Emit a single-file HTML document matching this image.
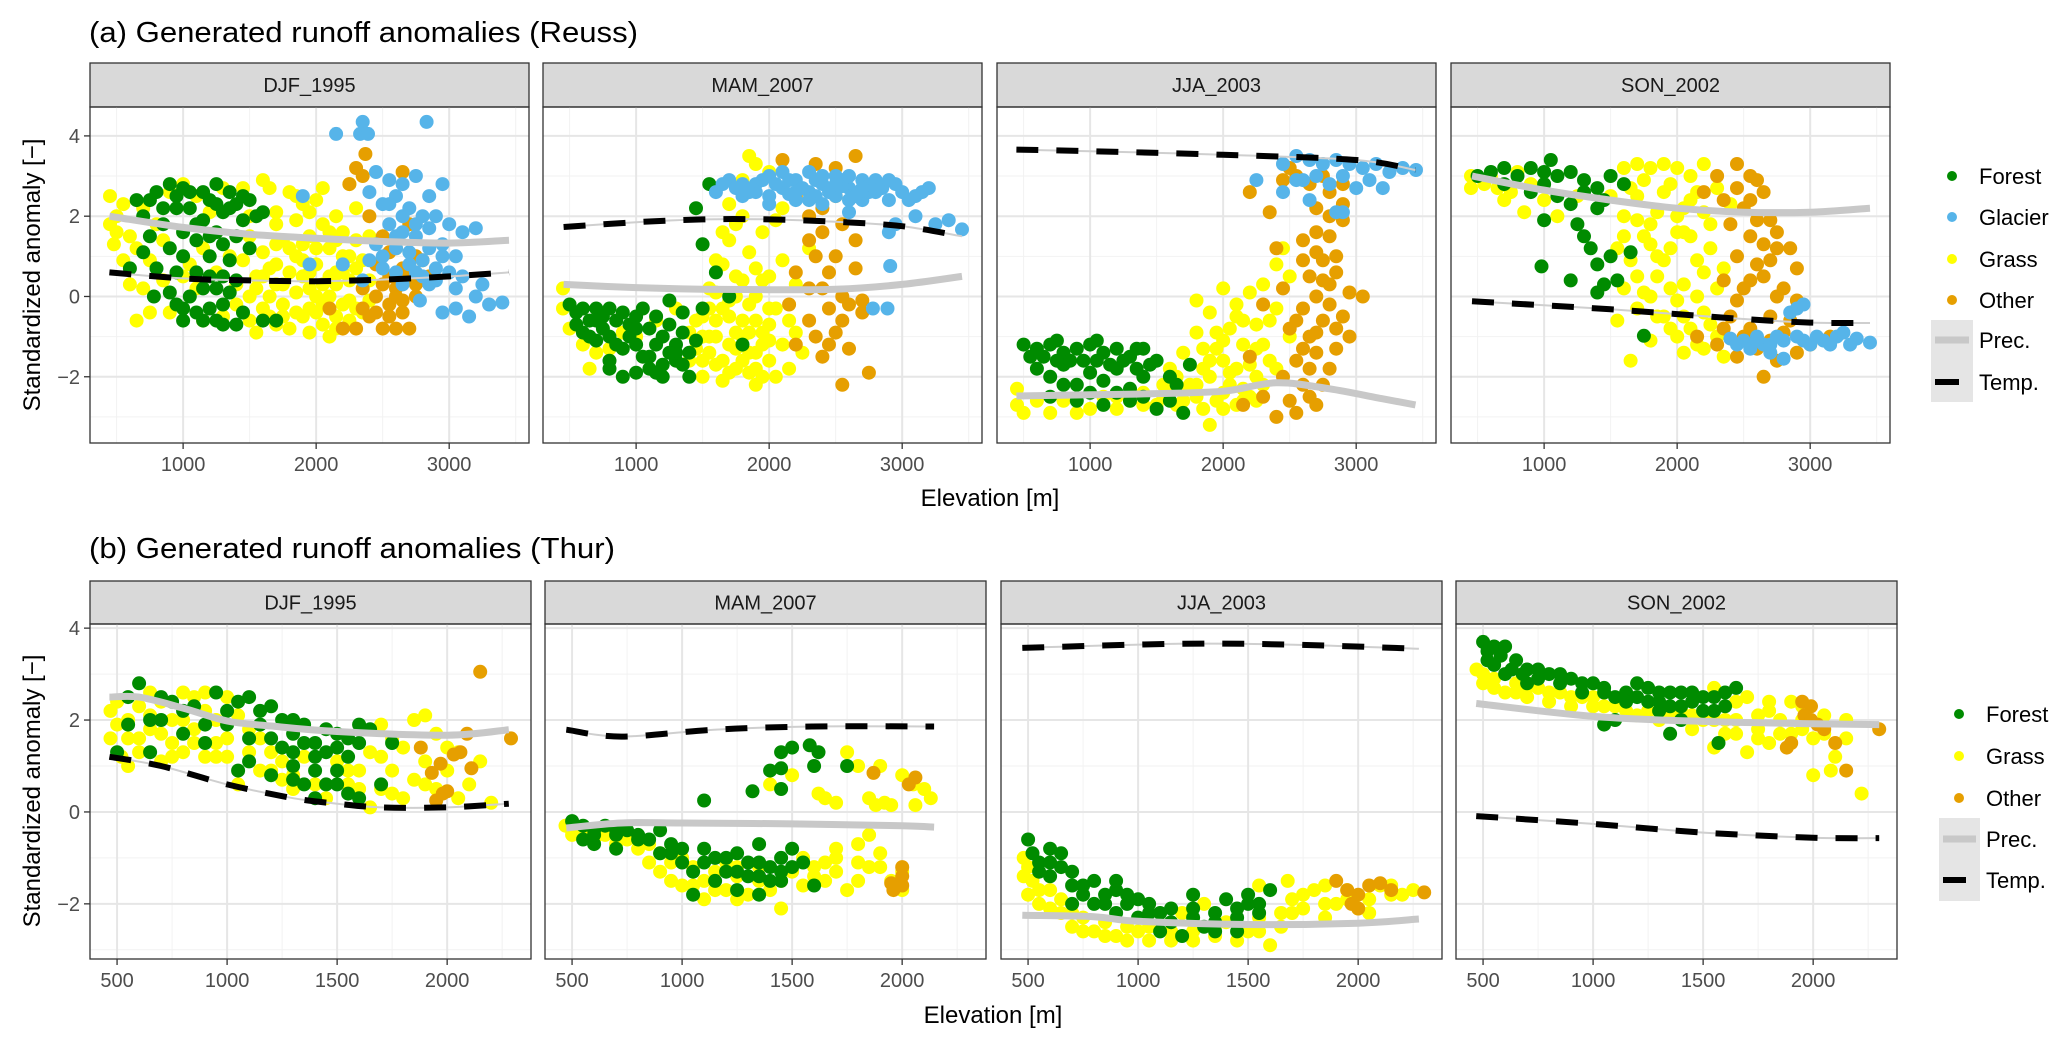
<!DOCTYPE html>
<html><head><meta charset="utf-8"><title>Generated runoff anomalies</title>
<style>
html,body{margin:0;padding:0;background:#fff;}
svg{display:block;font-family:"Liberation Sans",Arial,sans-serif;}
</style></head>
<body>
<svg id="chart" width="2067" height="1048" viewBox="0 0 2067 1048" xmlns="http://www.w3.org/2000/svg">
<rect x="0" y="0" width="2067" height="1048" fill="#fff"/>
<text x="89" y="42" font-size="29" fill="#000" textLength="549" lengthAdjust="spacingAndGlyphs">(a) Generated runoff anomalies (Reuss)</text>
<text x="89" y="558" font-size="29" fill="#000" textLength="526" lengthAdjust="spacingAndGlyphs">(b) Generated runoff anomalies (Thur)</text>
<text transform="translate(40,275) rotate(-90)" text-anchor="middle" font-size="24" fill="#000">Standardized anomaly [−]</text>
<text transform="translate(40,791) rotate(-90)" text-anchor="middle" font-size="24" fill="#000">Standardized anomaly [−]</text>
<text x="990" y="506" text-anchor="middle" font-size="24" fill="#000">Elevation [m]</text>
<text x="993" y="1023" text-anchor="middle" font-size="24" fill="#000">Elevation [m]</text>
<g id="panels"></g>
<g id="legends"></g>
</svg>
<script>
// ---------- data: seasons ----------
const seasons = ["DJF_1995","MAM_2007","JJA_2003","SON_2002"];
const reussXTicks = [1000,2000,3000];
const thurXTicks = [500,1000,1500,2000];
const yTicks = [4,2,0,-2];

// ---------- Reuss DJF ----------
const rDJF_forest = [[650,2.4],[700,2.0],[750,1.5],[800,2.6],[850,2.2],[900,2.8],[950,2.5],[1000,2.7],[1050,2.2],[1100,1.8],[1150,2.6],[1200,2.4],[1250,2.8],[1300,2.1],[1350,2.6],[1400,2.3],[1450,1.9],[1500,2.4],[1550,2.0],[1600,2.1],[700,1.1],[800,0.7],[900,1.2],[950,0.6],[1000,1.0],[1100,1.4],[1200,1.0],[1250,1.6],[1300,1.3],[1350,0.9],[1400,1.5],[1500,1.2],[1300,0.5],[900,0.1],[950,-0.2],[1000,-0.6],[1050,0.0],[1100,-0.4],[1150,0.2],[1200,-0.3],[1250,-0.6],[1300,-0.2],[1350,0.1],[1400,-0.7],[1450,-0.4],[1000,-0.3],[1200,0.5],[1600,-0.6],[1700,-0.6],[780,0.0],[600,0.7]];
const rDJF_forestMore = [[950,2.2],[1050,2.6],[1150,1.9],[1250,2.3],[1350,2.2],[1450,2.5],[1100,0.6],[1250,0.2],[1400,0.4],[1150,-0.6],[1300,-0.7],[850,1.8],[750,2.4],[1000,1.6],[1200,1.5]];
const rDJF_grass = [[450,2.5],[450,1.8],[480,1.3],[500,2.0],[550,0.9],[600,1.5],[650,-0.6],[700,0.2],[750,-0.4],[800,1.8],[850,0.4],[900,-0.4],[1000,2.8],[1050,0.8],[1100,2.5],[1150,1.2],[1200,2.1],[1300,2.7],[1350,1.0],[1400,0.3],[1450,2.7],[1500,1.5],[1550,0.5],[1600,2.9],[1650,2.7],[1700,2.1],[1750,1.4],[1800,2.6],[1850,1.9],[1900,2.3],[1950,1.5],[2000,2.4],[2050,1.8],[2100,1.2],[2150,2.0],[2200,1.6],[2250,2.8],[2300,2.2],[2400,1.5],[1500,-0.6],[1550,0.2],[1600,-0.3],[1650,0.7],[1700,-0.7],[1700,0.3],[1750,-0.2],[1800,0.6],[1800,-0.8],[1850,0.1],[1850,1.0],[1900,-0.5],[1900,0.5],[1950,-0.9],[1950,0.2],[2000,-0.4],[2000,0.8],[2050,-0.7],[2050,0.3],[2100,-1.0],[2100,0.0],[2150,-0.5],[2150,0.6],[2200,-0.2],[2200,1.0],[2250,-0.6],[2250,0.4],[2300,-0.3],[2350,0.9],[2400,-0.1],[1600,1.1],[1700,1.3],[1900,1.3],[2300,1.4],[1400,-0.2],[1450,0.9],[1300,-0.5],[1150,-0.6]];
const rDJF_grassMore = [[1500,0.0],[1550,-0.9],[1600,0.5],[1650,-0.5],[1650,0.0],[1700,0.8],[1750,0.3],[1750,-0.5],[1800,1.2],[1850,-0.4],[1900,0.9],[1950,0.6],[1950,-0.3],[2000,0.0],[2000,1.2],[2050,-0.2],[2100,0.5],[2100,1.6],[2150,-0.8],[2150,0.3],[2200,0.6],[2250,1.0],[2250,-0.1],[2300,0.7],[2350,-0.4],[2400,0.4],[500,1.6],[550,2.3],[600,0.3],[650,1.2],[700,2.2],[750,0.9],[850,1.4],[900,2.6],[1000,0.5],[1100,0.2],[1250,0.6],[1500,2.0],[1700,1.8],[1850,2.5],[1950,2.1],[2050,2.7],[2150,1.4]];
const rDJF_other = [[2370,3.55],[2300,3.2],[2350,3.0],[2650,3.1],[2250,2.8],[2400,2.0],[2500,1.5],[2600,1.2],[2700,1.8],[2800,0.9],[2450,0.8],[2550,0.5],[2650,0.7],[2750,0.3],[2350,0.2],[2450,0.0],[2550,-0.2],[2650,-0.1],[2400,-0.5],[2500,-0.8],[2600,-0.8],[2700,-0.8],[2200,-0.8],[2300,-0.8],[2750,0.0],[2600,0.2],[2850,0.5],[2100,-0.3]];
const rDJF_otherMore = [[2450,-0.4],[2550,-0.5],[2650,-0.4],[2350,-0.3],[2500,0.3],[2600,0.0],[2700,0.5],[2750,1.0],[2550,1.1]];
const rDJF_glacier = [[2150,4.05],[2350,4.35],[2330,4.05],[2390,4.05],[2830,4.35],[2450,3.1],[2550,2.9],[2650,2.8],[2750,3.0],[2950,2.8],[2850,2.5],[2400,2.6],[2500,2.3],[2600,2.5],[2700,2.2],[2800,2.0],[2900,2.0],[3000,1.8],[3100,1.6],[3200,1.7],[2550,1.8],[2650,1.6],[2750,1.5],[2450,1.3],[2600,1.2],[2850,1.2],[2950,1.0],[2400,0.9],[2500,0.7],[2600,0.6],[2700,0.8],[2800,0.5],[2900,0.7],[3000,0.6],[3100,0.5],[2350,0.4],[2650,0.3],[2850,0.3],[3050,0.2],[3200,0.0],[3300,-0.2],[3400,-0.15],[3150,-0.5],[2950,-0.4],[3050,-0.3],[2780,-0.1],[3250,0.3],[1900,2.5],[2200,0.8],[1950,0.8]];
const rDJF_glacierMore = [[2550,2.3],[2650,2.0],[2750,1.8],[2850,1.7],[2500,1.0],[2700,1.1],[2800,0.9],[2900,0.4],[2600,1.5],[2750,0.6],[2950,1.3],[3050,1.0]];
const rDJF_precX = [446,1000,1500,2000,2500,3000,3450];
const rDJF_prec = [2.0,1.72,1.55,1.45,1.37,1.33,1.4];
const rDJF_tempX = [446,1000,1500,2000,2500,3000,3450];
const rDJF_temp = [0.6,0.45,0.4,0.38,0.42,0.5,0.6];

// ---------- Reuss MAM ----------
const rMAM_forest = [[500,-0.2],[550,-0.4],[600,-0.3],[650,-0.6],[700,-0.3],[750,-0.5],[800,-0.3],[850,-0.6],[900,-0.4],[950,-0.7],[1000,-0.5],[1050,-0.3],[1100,-0.8],[1150,-0.5],[1200,-1.0],[1250,-0.7],[1300,-1.2],[1350,-0.9],[1400,-1.4],[1450,-1.1],[600,-0.9],[700,-1.1],[800,-1.0],[900,-1.3],[1000,-1.2],[1100,-1.5],[1200,-1.7],[1300,-1.6],[1400,-2.0],[1000,-1.9],[900,-2.0],[1100,-1.8],[800,-1.6],[1250,-0.1],[1500,1.3],[1450,2.2],[1550,2.8],[1600,0.6],[1700,0.0],[1800,-1.2],[1500,-0.3],[1300,-1.4]];
const rMAM_forestMore = [[550,-0.7],[650,-1.0],[750,-0.8],[850,-1.2],[950,-1.0],[1050,-1.5],[1150,-1.2],[1250,-1.4],[1350,-1.7],[700,-0.6],[800,-1.8],[1200,-2.0],[1350,-0.4],[1000,-0.8],[1150,-1.9]];
const rMAM_grass = [[450,0.2],[450,-0.3],[500,-0.8],[600,-1.2],[700,-1.4],[650,-1.8],[800,-1.3],[900,-0.9],[1000,-1.0],[1150,-0.6],[1300,-0.3],[1400,-0.9],[1400,-1.6],[1450,-1.3],[1500,-0.5],[1500,-2.0],[1550,0.2],[1550,-1.0],[1600,-1.7],[1600,0.9],[1650,-0.3],[1650,-2.1],[1700,1.4],[1700,-1.2],[1750,0.5],[1750,-1.8],[1800,-0.6],[1800,2.0],[1850,-1.4],[1850,1.1],[1900,0.0],[1900,-2.2],[1950,-0.9],[1950,1.6],[2000,-1.6],[2000,0.5],[2050,-0.3],[2050,-2.0],[2100,0.9],[2100,-1.2],[2150,-0.6],[2200,0.3],[2250,-1.4],[2300,1.2],[1800,2.9],[1900,3.3],[2000,3.1],[2100,2.2],[1850,3.5],[1700,2.3],[1750,1.8],[1650,1.6],[2150,-1.8],[2050,1.9],[2200,-0.9],[1600,-0.6],[1700,-0.5],[1800,-1.0],[1900,-1.4],[2000,-0.7],[1750,-1.3],[1850,-0.2],[1950,0.4]];
const rMAM_grassMore = [[1500,-1.6],[1550,-1.4],[1600,-1.0],[1650,-1.6],[1700,-1.9],[1750,-0.9],[1750,0.0],[1800,-1.6],[1850,-0.9],[1850,-1.9],[1900,-0.6],[1900,-1.8],[1950,-1.2],[1950,-2.0],[2000,-0.3],[2000,-1.1],[1650,0.8],[1700,-0.1],[1600,0.1],[1550,-0.3],[1450,-0.6],[1500,-1.0],[1800,0.4],[1900,0.7]];
const rMAM_other = [[2100,3.4],[2350,3.3],[2650,3.5],[2500,3.2],[2200,2.5],[2400,2.2],[2550,1.8],[2300,1.4],[2500,1.0],[2650,0.7],[2200,0.6],[2400,0.2],[2600,-0.2],[2300,-0.6],[2500,-0.9],[2700,-0.4],[2200,-1.2],[2400,-1.5],[2600,-1.3],[2750,-1.9],[2550,-2.2],[2150,-0.2],[2350,1.0],[2450,-0.3],[2650,1.4],[2700,-0.1]];
const rMAM_otherMore = [[2300,0.2],[2450,0.6],[2550,0.0],[2350,-1.0],[2450,-1.2],[2550,-0.6],[2400,1.6],[2500,2.5],[2300,2.0]];
const rMAM_glacier = [[1600,2.6],[1700,2.9],[1800,2.5],[1900,2.8],[2000,3.0],[2100,2.7],[2200,2.9],[2300,2.6],[2400,2.8],[2500,3.0],[2600,2.7],[2700,2.9],[2800,2.6],[2900,2.4],[3000,2.6],[3100,2.5],[3200,2.7],[2000,2.5],[2200,2.4],[2400,2.3],[2600,2.4],[2800,2.9],[1800,2.8],[2500,2.5],[2700,2.4],[2300,3.1],[2100,3.1],[3250,1.8],[3350,1.9],[3450,1.67],[2900,1.6],[2950,1.8],[2910,0.76],[2780,-0.3],[2890,-0.3],[3100,2.0],[2600,2.1],[1900,2.6],[2150,2.55],[2350,2.9],[2550,2.75],[2750,2.75]];
const rMAM_glacierMore = [[1650,2.8],[1750,2.7],[1850,2.6],[1950,2.9],[2050,2.8],[2150,2.9],[2250,2.7],[2350,2.5],[2450,2.6],[2550,2.9],[2650,2.5],[2750,2.6],[2850,2.7],[2950,2.8],[3050,2.4],[3150,2.6],[2000,2.3],[2300,2.4],[2500,2.8],[2700,2.7],[2900,2.9],[2400,3.0],[2600,3.0],[2200,2.6]];
const rMAM_precX = [455,1000,1500,2000,2500,3000,3450];
const rMAM_prec = [0.3,0.22,0.18,0.17,0.18,0.3,0.5];
const rMAM_tempX = [455,1000,1500,2000,2500,3000,3450];
const rMAM_temp = [1.73,1.85,1.92,1.92,1.86,1.75,1.5];

// ---------- Reuss JJA ----------
const rJJA_forest = [[500,-1.2],[550,-1.5],[600,-1.3],[700,-1.2],[800,-1.4],[900,-1.3],[1000,-1.2],[1100,-1.4],[1200,-1.3],[1300,-1.5],[1400,-1.3],[1500,-1.6],[600,-1.8],[700,-2.0],[800,-1.7],[900,-2.2],[1000,-1.9],[1100,-2.1],[1200,-1.8],[1300,-2.3],[1400,-2.0],[700,-2.5],[900,-2.6],[1100,-2.7],[1300,-2.6],[1500,-2.8],[1700,-2.9],[1650,-2.2],[1750,-1.7],[1600,-2.6]];
const rJJA_forestMore = [[650,-1.5],[750,-1.6],[850,-1.6],[950,-1.6],[1050,-1.6],[1150,-1.7],[1250,-1.6],[1350,-1.8],[1450,-1.7],[800,-2.2],[1000,-2.4],[1200,-2.4],[1400,-2.5],[1600,-2.0],[750,-1.1],[1050,-1.1],[1350,-1.3]];
const rJJA_grass = [[450,-2.3],[450,-2.7],[500,-2.9],[600,-2.6],[700,-2.9],[800,-2.6],[900,-2.9],[1000,-2.8],[1100,-2.5],[1200,-2.8],[1300,-2.6],[1400,-2.4],[1500,-2.7],[1600,-2.3],[1700,-2.6],[1800,-2.2],[1900,-3.2],[1900,-2.0],[2000,-2.4],[2100,-2.7],[1600,-1.8],[1700,-1.4],[1800,-0.9],[1900,-1.6],[2000,-1.1],[2100,-0.5],[2200,-1.7],[2300,-1.2],[2100,-0.2],[1900,-0.4],[1800,-0.1],[2000,0.2],[2200,0.1],[2300,0.3],[2400,-0.3],[2500,0.5],[2300,-2.2],[2400,-1.8],[2200,-2.5],[1750,-2.2],[1950,-0.9],[2150,-1.2],[2450,1.2],[2500,-1.0],[1650,-2.0],[1850,-1.3],[2050,-1.9],[2250,-0.7],[1550,-2.5]];
const rJJA_grassMore = [[1700,-2.3],[1800,-2.5],[1850,-1.8],[1950,-2.6],[2000,-1.6],[2050,-2.2],[2100,-1.8],[2150,-2.3],[2250,-2.0],[2050,-0.8],[2150,-0.6],[2250,-1.3],[2350,-0.6],[1950,-1.3],[1850,-2.8],[1650,-2.7],[2000,-2.8],[2150,-2.6],[2250,-2.6],[2350,-1.6],[2400,0.8],[1550,-2.2],[1400,-2.7],[1200,-2.5]];
const rJJA_other = [[2150,-2.7],[2300,-2.5],[2400,-3.0],[2500,-2.6],[2600,-2.2],[2700,-2.7],[2450,-2.0],[2550,-1.6],[2700,-1.4],[2800,-1.8],[2650,-1.0],[2750,-0.6],[2850,-0.8],[2600,-0.3],[2700,0.0],[2800,0.3],[2900,-0.5],[2650,0.5],[2750,0.9],[2850,1.0],[2950,0.1],[2600,1.4],[2700,1.6],[2800,1.5],[2900,1.9],[2700,2.2],[2800,2.6],[2900,2.3],[2650,2.8],[2550,3.0],[2450,2.9],[2350,2.1],[2400,1.2],[2200,2.6],[2300,-0.2],[2450,0.2],[2200,-1.5],[2500,-0.8],[3050,0.0],[2950,-1.0],[2500,3.2],[2750,3.0]];
const rJJA_otherMore = [[2650,-1.8],[2750,-2.2],[2650,-2.5],[2550,-2.9],[2600,-1.3],[2700,-0.9],[2800,-0.2],[2750,0.4],[2850,0.6],[2700,1.1],[2800,2.0],[2600,0.9],[2550,-0.6],[2850,-1.3],[2900,2.8]];
const rJJA_glacier = [[2450,3.3],[2550,3.5],[2650,3.4],[2750,3.3],[2850,3.4],[2950,3.3],[3050,3.2],[3150,3.3],[3250,3.1],[3350,3.2],[3450,3.15],[2600,2.9],[2700,3.0],[2800,2.8],[2900,3.0],[3000,2.7],[3100,2.9],[3200,2.7],[2650,2.4],[2550,2.9],[2850,2.1],[2900,2.1],[2250,2.9],[2450,2.6]];
const rJJA_precX = [446,1000,1500,2000,2400,2800,3200,3446];
const rJJA_prec = [-2.48,-2.45,-2.42,-2.36,-2.15,-2.3,-2.55,-2.7];
const rJJA_tempX = [446,1000,2000,3000,3446];
const rJJA_temp = [3.66,3.62,3.53,3.4,3.15];

// ---------- Reuss SON ----------
const rSON_forest = [[500,3.0],[600,3.1],[700,3.2],[800,3.0],[900,3.2],[1000,3.1],[1050,3.4],[1100,3.0],[1200,3.1],[1300,2.9],[1400,2.7],[1500,3.0],[1600,2.8],[700,2.8],[900,2.6],[1000,2.8],[1100,2.5],[1200,2.3],[1300,2.6],[1400,2.2],[1000,1.9],[1250,1.8],[1300,1.5],[1350,1.2],[1400,0.8],[1500,1.0],[1550,0.4],[1200,0.4],[1400,0.1],[1450,0.3],[980,0.75],[1750,-0.98],[1650,1.1],[1450,2.4]];
const rSON_grass = [[450,3.0],[450,2.7],[550,2.8],[650,2.7],[700,2.4],[800,3.1],[850,2.1],[1100,2.0],[1250,2.5],[1500,2.5],[1600,3.2],[1700,3.3],[1800,3.2],[1900,3.3],[2000,3.2],[2100,3.0],[2200,3.3],[1600,2.0],[1700,2.5],[1800,1.8],[1900,2.6],[2000,2.0],[2100,2.4],[2200,2.1],[2300,2.7],[1550,1.2],[1650,0.9],[1750,1.5],[1850,0.5],[1950,1.2],[2050,0.3],[2150,0.9],[2250,1.2],[2350,0.7],[1600,0.2],[1700,-0.3],[1800,0.0],[1900,-0.5],[2000,-0.1],[2100,-0.8],[2200,-0.4],[2300,-1.0],[1550,-0.6],[1800,-1.1],[2350,-1.5],[2050,-1.4],[1650,-1.6],[2150,0.0],[2400,2.3],[1750,2.9],[1950,2.8],[2050,1.6],[1850,1.0],[1700,0.5]];
const rSON_grassMore = [[1600,1.5],[1700,1.9],[1800,1.3],[1850,2.1],[1900,0.9],[1950,0.2],[2000,1.6],[2050,2.2],[2100,1.5],[2150,2.6],[2200,0.6],[2250,1.8],[2300,0.2],[1650,2.7],[1750,0.1],[1850,-0.5],[1950,-0.8],[2050,-0.5],[2150,-1.2],[2250,-0.7],[2200,-1.3],[2000,-1.0],[900,2.8],[750,2.6],[600,3.0],[1000,2.4]];
const rSON_other = [[2300,3.0],[2450,3.3],[2550,3.0],[2350,2.4],[2500,2.2],[2650,2.6],[2400,1.8],[2550,1.5],[2700,1.9],[2450,1.0],[2600,0.8],[2750,1.2],[2850,1.2],[2350,0.4],[2500,0.2],[2650,0.5],[2800,0.2],[2900,-0.1],[2400,-0.5],[2550,-0.8],[2700,-0.5],[2850,-0.6],[2300,-1.2],[2450,-1.5],[2600,-1.3],[2750,-1.6],[2900,-1.4],[2650,-2.0],[3000,-1.2],[2150,-1.0],[3150,-1.0],[2200,2.6]];
const rSON_otherMore = [[2450,2.7],[2550,2.4],[2600,1.9],[2650,1.3],[2700,0.9],[2750,0.0],[2800,-0.9],[2700,-1.1],[2550,0.4],[2450,-0.1],[2500,-1.0],[2350,-0.8],[2600,2.9],[2750,1.6],[2900,0.7]];
const rSON_glacier = [[2400,-1.05],[2500,-1.1],[2600,-1.0],[2700,-1.2],[2800,-1.1],[2900,-1.0],[3000,-1.2],[3100,-1.1],[3200,-1.0],[3300,-1.2],[3450,-1.15],[2700,-1.4],[2800,-1.55],[2900,-0.3],[2950,-0.2],[2850,-0.4],[3250,-0.9],[3350,-1.05],[2450,-1.2],[2550,-1.3],[2650,-1.2],[2750,-1.0],[2950,-1.1],[3050,-1.0],[3150,-1.2],[2600,-1.1]];
const rSON_precX = [458,1000,1500,2000,2500,3000,3450];
const rSON_prec = [3.0,2.65,2.4,2.2,2.1,2.1,2.2];
const rSON_tempX = [458,1000,1500,2000,2500,3000,3450];
const rSON_temp = [-0.12,-0.22,-0.32,-0.44,-0.56,-0.65,-0.66];

// ---------- Thur DJF ----------
const tDJF_forest = [[500,1.3],[550,2.5],[600,2.8],[650,2.0],[700,2.5],[650,1.3],[750,2.4],[800,1.7],[850,2.3],[900,1.5],[950,2.6],[1000,1.9],[1050,2.4],[1100,2.5],[1150,2.2],[1200,1.6],[1250,2.0],[1300,1.7],[1350,1.9],[1400,1.5],[1450,1.8],[1500,1.4],[1550,1.2],[1600,1.9],[1650,1.8],[1050,0.9],[1100,1.1],[1200,0.8],[1300,1.3],[1350,0.6],[1400,0.9],[1450,0.6],[1500,0.9],[1550,0.4],[1600,0.3],[1700,0.6],[1750,1.5],[1300,1.0],[1250,1.4],[1400,1.2],[1100,1.6],[550,1.9],[700,2.0],[800,2.2],[900,1.9],[1000,2.2],[1150,1.9],[1200,2.3],[1300,2.0],[1350,1.5],[1450,1.3],[1500,1.7],[1550,1.6],[1500,0.6],[1400,0.3],[1300,0.7],[1600,1.5]];
const tDJF_grass = [[470,2.2],[470,1.6],[500,1.9],[520,1.2],[550,1.0],[600,2.3],[600,1.6],[650,2.6],[700,1.7],[700,1.1],[750,2.0],[800,2.6],[800,1.3],[850,1.8],[900,2.2],[900,1.2],[950,1.5],[1000,2.5],[1000,1.2],[1050,0.6],[1100,1.8],[1150,0.9],[1200,1.3],[1250,0.7],[1300,0.5],[1350,1.2],[1450,0.3],[1500,1.1],[1550,0.6],[1600,0.9],[1650,0.1],[1650,1.3],[1700,1.9],[1750,0.9],[1800,0.3],[1800,1.4],[1850,0.7],[1850,2.0],[1900,1.1],[1950,0.5],[1950,1.7],[2000,0.9],[2050,0.3],[2050,1.3],[2100,0.6],[2200,0.2],[2150,1.1],[1900,2.1],[1750,1.6],[1700,0.5],[550,2.0],[750,1.5],[850,2.5],[950,2.0],[650,1.8],[500,2.4],[550,1.6],[600,1.3],[650,2.1],[700,2.4],[750,1.2],[800,2.0],[850,1.5],[900,2.6],[950,1.2],[1000,1.6],[1050,2.1],[1100,1.3],[1150,1.6],[1200,0.9],[1250,1.1],[1300,0.8],[1400,0.6],[1550,0.9],[1600,0.5],[1700,1.2],[1750,0.4],[1900,0.6],[2000,1.4]];
const tDJF_other = [[2150,3.05],[2290,1.6],[1880,1.4],[1930,0.85],[1970,1.05],[2030,1.25],[2060,1.3],[2110,0.95],[1950,0.25],[1980,0.4],[2000,0.45],[2090,1.7]];
const tDJF_precX = [465,600,800,1000,1200,1500,2000,2280];
const tDJF_prec = [2.5,2.5,2.26,1.98,1.87,1.75,1.67,1.79];
const tDJF_tempX = [465,700,1000,1300,1500,1700,2000,2280];
const tDJF_temp = [1.2,1.0,0.6,0.3,0.18,0.1,0.1,0.18];

// ---------- Thur MAM ----------
const tMAM_forest = [[500,-0.2],[550,-0.3],[600,-0.4],[650,-0.3],[700,-0.5],[750,-0.4],[800,-0.5],[850,-0.6],[900,-0.4],[550,-0.6],[600,-0.7],[700,-0.8],[900,-0.9],[950,-0.7],[1000,-1.1],[1050,-1.3],[1100,-0.8],[1150,-1.0],[1200,-1.3],[1250,-0.9],[1300,-1.1],[1350,-1.4],[1400,-1.2],[1450,-1.0],[1500,-0.8],[1250,-1.7],[1350,-1.8],[1050,-1.8],[1450,-1.5],[1550,-1.1],[1600,-1.6],[1100,0.25],[1320,0.45],[1400,0.9],[1450,0.95],[1450,1.3],[1500,1.4],[1580,1.45],[1600,1.0],[1620,1.3],[1750,1.0],[1450,0.5],[1350,-0.7],[600,-0.5],[700,-0.4],[800,-0.6],[950,-0.9],[1000,-0.8],[1100,-1.1],[1200,-1.0],[1300,-1.4],[1400,-1.5],[1500,-1.2],[1250,-1.3],[1350,-1.1],[1150,-1.5],[1450,-1.3]];
const tMAM_grass = [[470,-0.3],[500,-0.5],[600,-0.6],[700,-0.7],[800,-0.8],[850,-1.1],[900,-1.3],[950,-1.5],[1000,-1.6],[1100,-1.5],[1200,-1.7],[1250,-1.4],[1300,-1.8],[1400,-1.7],[1450,-2.1],[1350,-1.5],[1500,-1.3],[1550,-1.0],[1600,-1.4],[1650,-1.1],[1700,-0.8],[1750,-1.7],[1800,-0.7],[1850,-0.5],[1900,-1.2],[1950,-1.5],[2000,-1.3],[1700,-1.3],[1800,-1.1],[1750,1.3],[1800,1.0],[1900,1.0],[2000,0.8],[2050,0.6],[2100,0.5],[2130,0.3],[2060,0.15],[1950,0.15],[1880,0.15],[1650,0.3],[1700,0.2],[1620,0.4],[1500,0.8],[1920,0.2],[1850,0.3],[1400,0.6],[1000,-1.0],[1200,-1.1],[1100,-1.9],[550,-0.4],[650,-0.5],[750,-0.6],[850,-0.7],[900,-0.9],[950,-1.1],[1050,-1.2],[1150,-1.3],[1250,-1.2],[1350,-1.2],[1450,-1.5],[1550,-1.6],[1600,-1.2],[1650,-1.5],[1700,-1.0],[1800,-1.5],[1850,-1.2],[1900,-0.9],[2000,-1.7],[1050,-1.6],[1150,-1.7],[1250,-1.9]];
const tMAM_other = [[1870,0.85],[2030,0.6],[2060,0.75],[2000,-1.2],[2000,-1.4],[1960,-1.7],[1950,-1.55],[2000,-1.6]];
const tMAM_precX = [474,724,1000,1500,2000,2145];
const tMAM_prec = [-0.35,-0.24,-0.24,-0.26,-0.3,-0.33];
const tMAM_tempX = [474,724,1145,1592,2145];
const tMAM_temp = [1.79,1.64,1.79,1.86,1.86];

// ---------- Thur JJA ----------
const tJJA_forest = [[500,-0.6],[520,-0.9],[550,-1.1],[600,-0.8],[650,-0.9],[600,-1.4],[700,-1.3],[750,-1.6],[800,-1.5],[850,-1.8],[900,-1.7],[950,-2.0],[1000,-1.9],[800,-2.0],[900,-2.2],[1000,-2.3],[1100,-2.2],[1150,-2.4],[1200,-2.7],[1250,-2.3],[1300,-2.5],[1350,-2.2],[1400,-1.9],[1450,-2.1],[1500,-1.8],[1550,-2.0],[1600,-1.7],[1450,-2.6],[1250,-1.8],[1100,-2.6],[1350,-2.6],[1050,-2.0],[700,-2.0],[550,-1.3],[650,-1.2],[700,-1.6],[750,-1.8],[850,-2.0],[950,-1.8],[1050,-2.2],[1150,-2.1],[1250,-2.1],[1350,-2.4],[1450,-2.3],[1550,-2.2],[1500,-2.0],[900,-1.5],[600,-1.1]];
const tJJA_grass = [[480,-1.0],[480,-1.4],[500,-1.8],[550,-2.0],[600,-1.7],[650,-2.2],[700,-2.5],[750,-2.3],[800,-2.6],[850,-2.4],[900,-2.7],[950,-2.5],[1000,-2.6],[1050,-2.8],[1150,-2.6],[1250,-2.8],[1350,-2.7],[1400,-2.4],[1450,-2.8],[1500,-2.6],[1550,-2.3],[1600,-2.9],[1650,-2.2],[1700,-1.9],[1750,-2.1],[1800,-1.7],[1850,-2.3],[1900,-2.0],[1950,-1.7],[2000,-2.1],[2050,-1.9],[2100,-1.6],[2150,-1.8],[2250,-1.7],[1300,-2.0],[1200,-2.2],[1850,-1.6],[1680,-1.5],[1550,-1.6],[500,-1.2],[520,-1.5],[550,-1.7],[600,-2.1],[650,-1.9],[700,-2.2],[750,-2.6],[850,-2.7],[950,-2.8],[1050,-2.5],[1150,-2.8],[1250,-2.6],[1350,-2.5],[1550,-2.6],[1650,-2.5],[1750,-1.8],[1850,-2.0],[1950,-1.9],[2050,-2.2],[2150,-1.6],[2200,-1.8],[1700,-2.2]];
const tJJA_other = [[1900,-1.5],[1950,-1.7],[2000,-1.8],[2050,-1.6],[1970,-2.0],[2000,-2.1],[2150,-1.7],[2300,-1.75],[2100,-1.55]];
const tJJA_precX = [474,800,1000,1500,2000,2276];
const tJJA_prec = [-2.25,-2.28,-2.38,-2.45,-2.42,-2.33];
const tJJA_tempX = [474,1184,1710,2276];
const tJJA_temp = [3.57,3.66,3.64,3.55];

// ---------- Thur SON ----------
const tSON_forest = [[500,3.7],[520,3.5],[550,3.6],[600,3.6],[650,3.3],[550,3.2],[600,3.0],[700,3.1],[750,2.9],[800,3.0],[850,2.8],[900,2.9],[950,2.6],[1000,2.8],[1050,2.7],[1100,2.5],[1150,2.6],[1200,2.8],[1250,2.4],[1300,2.6],[1350,2.3],[1400,2.6],[1450,2.4],[1500,2.5],[1550,2.2],[1600,2.6],[1650,2.7],[1400,2.0],[1350,1.7],[1100,2.0],[1050,1.9],[1500,2.2],[1570,1.5],[1300,2.2],[700,2.8],[520,3.3],[580,3.4],[630,3.1],[680,3.0],[750,3.1],[850,3.0],[950,2.8],[1050,2.6],[1150,2.4],[1250,2.7],[1350,2.6],[1450,2.6],[1550,2.5],[1400,2.3],[1300,2.4],[1200,2.5],[1600,2.3]];
const tSON_grass = [[470,3.1],[500,2.8],[550,2.7],[600,2.6],[650,2.8],[700,2.5],[750,2.7],[800,2.4],[850,2.6],[900,2.3],[950,2.5],[1000,2.3],[1100,2.3],[1200,2.1],[1300,2.0],[1400,2.2],[1450,1.8],[1500,2.0],[1550,2.7],[1600,2.0],[1650,1.7],[1700,2.5],[1750,1.8],[1800,2.2],[1850,1.7],[1900,2.4],[1950,2.0],[2000,1.6],[2050,2.1],[2150,2.0],[1550,1.4],[1700,1.3],[1750,1.6],[2000,0.8],[2080,0.9],[2220,0.4],[1800,2.4],[1650,2.4],[1900,1.7],[500,3.0],[550,2.9],[650,2.6],[700,2.7],[800,2.6],[900,2.5],[1000,2.5],[1050,2.3],[1150,2.2],[1250,2.2],[1350,2.1],[1450,2.1],[1550,2.0],[1650,2.0],[1750,2.1],[1850,2.0],[1950,1.8],[2050,1.7],[2150,1.6],[1600,1.7],[1800,1.5],[1950,2.3],[2100,1.2]];
const tSON_other = [[1950,2.4],[1990,2.3],[1960,2.1],[1990,2.0],[1900,1.5],[1880,1.4],[2020,1.9],[2100,1.5],[2050,1.8],[2150,0.9],[2300,1.8]];
const tSON_precX = [469,1000,1500,2000,2300];
const tSON_prec = [2.36,2.08,1.97,1.92,1.9];
const tSON_tempX = [469,1000,1500,2000,2300];
const tSON_temp = [-0.09,-0.26,-0.45,-0.56,-0.57];

// ---------- layout (not data) ----------
const COLORS = {forest:"#008b00", glacier:"#56b4e9", grass:"#ffff00", other:"#e69f00"};
const reussPanels = [
  {season:0, forest:rDJF_forest.concat(rDJF_forestMore), grass:rDJF_grass.concat(rDJF_grassMore), other:rDJF_other.concat(rDJF_otherMore), glacier:rDJF_glacier.concat(rDJF_glacierMore), precX:rDJF_precX, prec:rDJF_prec, tempX:rDJF_tempX, temp:rDJF_temp},
  {season:1, forest:rMAM_forest.concat(rMAM_forestMore), grass:rMAM_grass.concat(rMAM_grassMore), other:rMAM_other.concat(rMAM_otherMore), glacier:rMAM_glacier.concat(rMAM_glacierMore), precX:rMAM_precX, prec:rMAM_prec, tempX:rMAM_tempX, temp:rMAM_temp},
  {season:2, forest:rJJA_forest.concat(rJJA_forestMore), grass:rJJA_grass.concat(rJJA_grassMore), other:rJJA_other.concat(rJJA_otherMore), glacier:rJJA_glacier, precX:rJJA_precX, prec:rJJA_prec, tempX:rJJA_tempX, temp:rJJA_temp},
  {season:3, forest:rSON_forest, grass:rSON_grass.concat(rSON_grassMore), other:rSON_other.concat(rSON_otherMore), glacier:rSON_glacier, precX:rSON_precX, prec:rSON_prec, tempX:rSON_tempX, temp:rSON_temp}
];
const thurPanels = [
  {season:0, forest:tDJF_forest, grass:tDJF_grass, other:tDJF_other, glacier:[], precX:tDJF_precX, prec:tDJF_prec, tempX:tDJF_tempX, temp:tDJF_temp},
  {season:1, forest:tMAM_forest, grass:tMAM_grass, other:tMAM_other, glacier:[], precX:tMAM_precX, prec:tMAM_prec, tempX:tMAM_tempX, temp:tMAM_temp},
  {season:2, forest:tJJA_forest, grass:tJJA_grass, other:tJJA_other, glacier:[], precX:tJJA_precX, prec:tJJA_prec, tempX:tJJA_tempX, temp:tJJA_temp},
  {season:3, forest:tSON_forest, grass:tSON_grass, other:tSON_other, glacier:[], precX:tSON_precX, prec:tSON_prec, tempX:tSON_tempX, temp:tSON_temp}
];
const rows = [
  {key:"reuss", panels:reussPanels, lefts:[90,543,997,1451], width:439, stripTop:63, top:107, bottom:443, xDom:[300,3600], yDom:[-3.65,4.72], xTicks:reussXTicks, xMinor:[500,1500,2500,3500], yMinor:[-3,-1,1,3], tickLabelY:471},
  {key:"thur", panels:thurPanels, lefts:[90,545,1001,1456], width:441, stripTop:581, top:624, bottom:959, xDom:[377,2381], yDom:[-3.2,4.09], xTicks:thurXTicks, xMinor:[750,1250,1750,2250], yMinor:[-3,-1,1,3], tickLabelY:987}
];

const NS = "http://www.w3.org/2000/svg";
function mk(tag, attrs, parent){
  const e = document.createElementNS(NS, tag);
  for (const k in attrs) e.setAttribute(k, attrs[k]);
  parent.appendChild(e);
  return e;
}
function smoothPath(pts){
  let d = "M" + pts[0][0].toFixed(1) + "," + pts[0][1].toFixed(1);
  for (let i = 0; i < pts.length - 1; i++){
    const p0 = pts[Math.max(0,i-1)], p1 = pts[i], p2 = pts[i+1], p3 = pts[Math.min(pts.length-1,i+2)];
    const c1x = p1[0] + (p2[0]-p0[0])/6, c1y = p1[1] + (p2[1]-p0[1])/6;
    const c2x = p2[0] - (p3[0]-p1[0])/6, c2y = p2[1] - (p3[1]-p1[1])/6;
    d += " C" + c1x.toFixed(1) + "," + c1y.toFixed(1) + " " + c2x.toFixed(1) + "," + c2y.toFixed(1) + " " + p2[0].toFixed(1) + "," + p2[1].toFixed(1);
  }
  return d;
}

const panelsG = document.getElementById("panels");
rows.forEach(function(row, ri){
  const yS = function(v){ return row.bottom - (v - row.yDom[0]) / (row.yDom[1] - row.yDom[0]) * (row.bottom - row.top); };
  row.panels.forEach(function(p, pi){
    const left = row.lefts[pi], right = left + row.width;
    const xS = function(e){ return left + (e - row.xDom[0]) / (row.xDom[1] - row.xDom[0]) * row.width; };
    const g = mk("g", {}, panelsG);
    
    
    const clipId = "clip-" + ri + "-" + pi;
    const cp = mk("clipPath", {id: clipId}, g);
    mk("rect", {x:left, y:row.top, width:row.width, height:row.bottom-row.top}, cp);
    const strip = mk("rect", {x:left, y:row.stripTop, width:row.width, height:row.top-row.stripTop, fill:"#d9d9d9", stroke:"#333", "stroke-width":1.3}, g);
    
    
    const st = mk("text", {x:(left+right)/2, y:(row.stripTop+row.top)/2+7, "text-anchor":"middle", "font-size":20, fill:"#1a1a1a"}, g);
    st.textContent = seasons[p.season];
    
    
    const grid = mk("g", {"clip-path":"url(#"+clipId+")"}, g);
    
    
    row.yMinor.forEach(function(v){ mk("line",{x1:left,x2:right,y1:yS(v),y2:yS(v),stroke:"#f2f2f2","stroke-width":1},grid); });
    row.xMinor.forEach(function(v){ mk("line",{x1:xS(v),x2:xS(v),y1:row.top,y2:row.bottom,stroke:"#f2f2f2","stroke-width":1},grid); });
    yTicks.forEach(function(v){ mk("line",{x1:left,x2:right,y1:yS(v),y2:yS(v),stroke:"#e6e6e6","stroke-width":2},grid); });
    row.xTicks.forEach(function(v){ mk("line",{x1:xS(v),x2:xS(v),y1:row.top,y2:row.bottom,stroke:"#e6e6e6","stroke-width":2},grid); });
    const pts = mk("g", {"clip-path":"url(#"+clipId+")"}, g);
    
    
    ["grass","forest","other","glacier"].forEach(function(cls){
      p[cls].forEach(function(d){
        const c = mk("circle", {cx:xS(d[0]).toFixed(1), cy:yS(d[1]).toFixed(1), r:7, fill:COLORS[cls]}, pts);
        
        
      });
    });
    const precPts = p.precX.map(function(e,i){ return [xS(e), yS(p.prec[i])]; });
    const tempPts = p.tempX.map(function(e,i){ return [xS(e), yS(p.temp[i])]; });
    const pl = mk("path", {d:smoothPath(precPts), fill:"none", stroke:"#c8c8c8", "stroke-width":7, "stroke-linecap":"butt"}, g);
    
    
    const tBase = mk("path", {d:smoothPath(tempPts), fill:"none", stroke:"#cfcfcf", "stroke-width":2}, g);
    
    
    const tl = mk("path", {d:smoothPath(tempPts), fill:"none", stroke:"#000", "stroke-width":6, "stroke-dasharray":"22 18"}, g);
    
    
    const b = mk("rect", {x:left, y:row.top, width:row.width, height:row.bottom-row.top, fill:"none", stroke:"#333", "stroke-width":1.3}, g);
    
    
    row.xTicks.forEach(function(v){
      mk("line",{x1:xS(v),x2:xS(v),y1:row.bottom,y2:row.bottom+6,stroke:"#333","stroke-width":1.3},g);
      const t = mk("text",{x:xS(v),y:row.tickLabelY,"text-anchor":"middle","font-size":20,fill:"#4d4d4d"},g);
      t.textContent = v;
      
      
    });
    if (pi === 0){
      yTicks.forEach(function(v){
        mk("line",{x1:left-6,x2:left,y1:yS(v),y2:yS(v),stroke:"#333","stroke-width":1.3},g);
        const t = mk("text",{x:left-10,y:yS(v)+7,"text-anchor":"end","font-size":20,fill:"#4d4d4d"},g);
        t.textContent = v < 0 ? "\u2212" + Math.abs(v) : String(v);
        
        
      });
    }
  });
});

const legendsG = document.getElementById("legends");
const legendSpecs = [
  {dotX:1952, textX:1979, items:["forest","glacier","grass","other"], ys:[176,217,259,300], box:[1931,320,42,82], precY:340, tempY:382},
  {dotX:1959, textX:1986, items:["forest","grass","other"], ys:[714,756,798], box:[1939,818,41,83], precY:839, tempY:880}
];
const legendLabels = {forest:"Forest", glacier:"Glacier", grass:"Grass", other:"Other"};
legendSpecs.forEach(function(L, li){
  const g = mk("g", {}, legendsG);
  
  
  L.items.forEach(function(k, i){
    const e = mk("g", {}, g);
    
    
    mk("circle", {cx:L.dotX, cy:L.ys[i], r:5, fill:COLORS[k]}, e);
    const t = mk("text", {x:L.textX, y:L.ys[i]+8, "font-size":22, fill:"#000"}, e);
    t.textContent = legendLabels[k];
  });
  mk("rect", {x:L.box[0], y:L.box[1], width:L.box[2], height:L.box[3], fill:"#e5e5e5"}, g);
  const pe = mk("g", {}, g);
  
  
  mk("line", {x1:L.box[0]+4, x2:L.box[0]+L.box[2]-4, y1:L.precY, y2:L.precY, stroke:"#c8c8c8", "stroke-width":7}, pe);
  const pt = mk("text", {x:L.textX, y:L.precY+8, "font-size":22, fill:"#000"}, pe);
  pt.textContent = "Prec.";
  const te = mk("g", {}, g);
  
  
  mk("line", {x1:L.box[0]+4, x2:L.box[0]+L.box[2]-14, y1:L.tempY, y2:L.tempY, stroke:"#000", "stroke-width":6}, te);
  const tt = mk("text", {x:L.textX, y:L.tempY+8, "font-size":22, fill:"#000"}, te);
  tt.textContent = "Temp.";
});
</script>
</body></html>
